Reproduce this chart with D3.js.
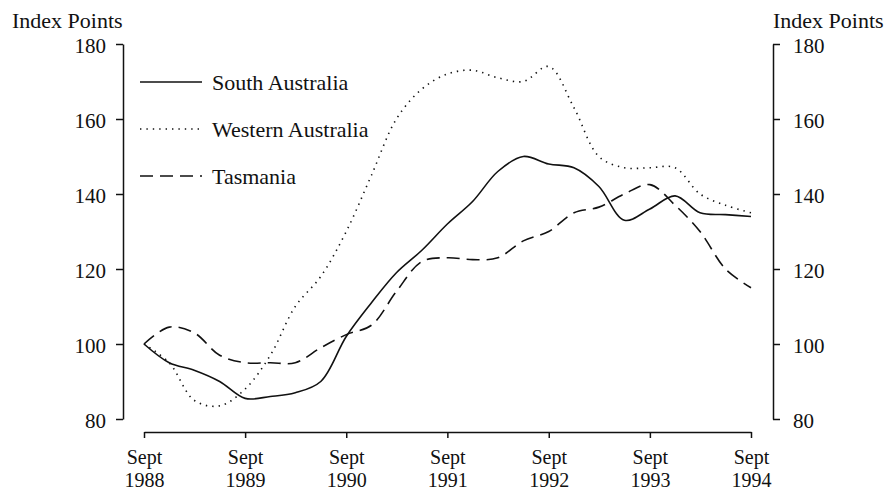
<!DOCTYPE html>
<html>
<head>
<meta charset="utf-8">
<script src="https://cdn.jsdelivr.net/npm/d3@7"></script>
<style>
  body { margin: 0; background: #fff; }
  svg { font-family: "Liberation Serif", "Times New Roman", serif; }
  .axis path, .axis line { stroke: #111; stroke-width: 1.5; }
  .axis text { font-size: 21px; fill: #111; font-family: "Liberation Serif", serif; }
  .line { fill: none; stroke: #111; stroke-width: 1.6; }
</style>
</head>
<body>
<script>
// quarterly index, Sept 1988 = 100
var quarters = ["1988-09","1988-12","1989-03","1989-06","1989-09","1989-12","1990-03","1990-06",
  "1990-09","1990-12","1991-03","1991-06","1991-09","1991-12","1992-03","1992-06",
  "1992-09","1992-12","1993-03","1993-06","1993-09","1993-12","1994-03","1994-06","1994-09"];

var southAus = [100, 95, 93, 90, 85.5, 86, 87, 90, 102, 111, 119, 125, 132, 138, 146, 150,
  148, 147, 142, 133, 136, 139.5, 135, 134.5, 134];
var westernAus = [100, 95, 85, 83.5, 88, 97, 110, 118, 130, 145, 160, 168, 172, 173, 171, 170,
  174, 163, 150, 147, 147, 147, 140, 137, 135];
var tasmania = [100, 104.5, 103, 97, 95, 95, 95, 99, 102.5, 105, 114, 122, 123, 122.5, 123, 127.5,
  130, 135, 136.5, 140, 142.5, 137, 130, 120, 115];

var seriesNames = ["South Australia", "Western Australia", "Tasmania"];
var yTicks = [80, 100, 120, 140, 160, 180];
var xTickLabels = [["Sept","1988"],["Sept","1989"],["Sept","1990"],["Sept","1991"],
  ["Sept","1992"],["Sept","1993"],["Sept","1994"]];

var width = 893, height = 492;

var svg = d3.select("body").append("svg")
    .attr("width", width)
    .attr("height", height);

var parse = d3.timeParse("%Y-%m");
var dates = quarters.map(parse);

var x = d3.scaleTime().domain(d3.extent(dates)).range([144, 751]);
var y = d3.scaleLinear().domain([80, 180]).range([419, 44]);

// left axis
var left = svg.append("g").attr("class", "axis")
    .attr("transform", "translate(123,0)")
    .call(d3.axisLeft(y).tickValues(yTicks).tickSize(7).tickSizeOuter(0).tickPadding(10));
left.selectAll("text").attr("dy", "0.4em");

// right axis
var right = svg.append("g").attr("class", "axis")
    .attr("transform", "translate(773,0)")
    .call(d3.axisRight(y).tickValues(yTicks).tickSize(7).tickSizeOuter(0).tickPadding(13));
right.selectAll("text").attr("dy", "0.4em");

// bottom axis, two-line labels
var xTickDates = dates.filter(function(d) { return d.getMonth() == 8; });
var bottom = svg.append("g").attr("class", "axis")
    .attr("transform", "translate(0,432)")
    .call(d3.axisBottom(x).tickValues(xTickDates).tickSize(6).tickSizeOuter(0).tickFormat(""));

bottom.selectAll(".tick").each(function(d, i) {
  var tk = d3.select(this);
  tk.append("text")
      .attr("text-anchor", "middle")
      .attr("y", 32)
      .style("font-size", "20px")
      .attr("fill", "#111")
      .text(xTickLabels[i][0]);
  tk.append("text")
      .attr("text-anchor", "middle")
      .attr("y", 55)
      .style("font-size", "20px")
      .attr("fill", "#111")
      .text(xTickLabels[i][1]);
});

svg.append("text").attr("x", 12).attr("y", 28).style("font-size", "22px")
    .attr("fill", "#111").text("Index Points");
svg.append("text").attr("x", 773).attr("y", 28).style("font-size", "22px")
    .attr("fill", "#111").text("Index Points");

var dashes = [null, "1.4,5", "13,7"];
var allSeries = [southAus, westernAus, tasmania];

var line = d3.line()
    .x(function(d, i) { return x(dates[i]); })
    .y(function(d) { return y(d); })
    .curve(d3.curveCatmullRom.alpha(0.5));

allSeries.forEach(function(s, k) {
  svg.append("path")
      .attr("class", "line")
      .attr("d", line(s))
      .style("stroke-dasharray", dashes[k]);
});

// legend
var legend = svg.append("g").attr("transform", "translate(140,82)");
seriesNames.forEach(function(name, k) {
  var g = legend.append("g").attr("transform", "translate(0," + (k * 47) + ")");
  g.append("line").attr("class", "line")
      .attr("x1", 0).attr("x2", 62).attr("y1", 0).attr("y2", 0)
      .style("stroke-dasharray", dashes[k]);
  g.append("text").attr("x", 72).attr("dy", "0.35em")
      .style("font-size", "22px").attr("fill", "#111").text(name);
});
</script>
</body>
</html>
